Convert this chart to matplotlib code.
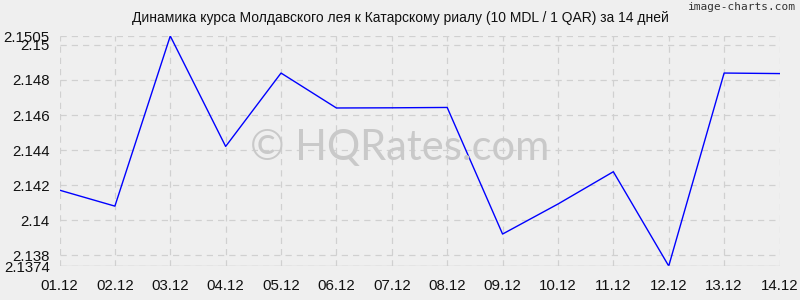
import matplotlib.pyplot as plt

dates = ['01.12', '02.12', '03.12', '04.12', '05.12', '06.12', '07.12',
         '08.12', '09.12', '10.12', '11.12', '12.12', '13.12', '14.12']
rates = [2.14172, 2.14081, 2.1505, 2.14421, 2.14839, 2.14640, 2.14641,
         2.14643, 2.13922, 2.14093, 2.14277, 2.1374, 2.14839, 2.14836]
yticks = [2.1374, 2.138, 2.14, 2.142, 2.144, 2.146, 2.148, 2.15, 2.1505]
ytick_labels = ['2.1374', '2.138', '2.14', '2.142', '2.144', '2.146', '2.148', '2.15', '2.1505']

plt.rcParams['font.family'] = ['Liberation Sans', 'DejaVu Sans']

bg = '#efefef'
fig = plt.figure(figsize=(8, 3), dpi=100, facecolor=bg)
ax = fig.add_axes([59.5 / 800, 34 / 300, 720 / 800, 230 / 300])
ax.set_facecolor(bg)

x = list(range(len(dates)))
ax.plot(x, rates, color='#0000ff', linewidth=1)

ax.set_xlim(0, len(dates) - 1)
ax.set_ylim(2.1374, 2.1505)
ax.set_xticks(x)
ax.set_xticklabels(dates)
ax.set_yticks(yticks)
ax.set_yticklabels(ytick_labels)
ax.tick_params(length=0, labelsize=10.8, colors='#111111', pad=7)
ax.tick_params(axis='x', pad=9)

ax.grid(True, color='#d0d0d0', linestyle=(0, (5, 4)), linewidth=0.9)
for s in ax.spines.values():
    s.set_visible(False)
ax.axhline(2.1374, color='#cccccc', linewidth=1)

fig.text(0.5, 1 - 18 / 300, 'Динамика курса Молдавского лея к Катарскому риалу (10 MDL / 1 QAR) за 14 дней',
         ha='center', va='center', fontsize=10, color='#111111')
fig.text(0.995, 1 - 7 / 300, 'image-charts.com', ha='right', va='center',
         fontsize=8, color='#333333', family='DejaVu Sans Mono')
fig.text(400 / 800, 1 - 148 / 300, '© HQRates.com', ha='center', va='center',
         fontsize=30, color='#c9c9c9', family='Lato', zorder=0)

fig.savefig('out.png', dpi=100, facecolor=bg)
